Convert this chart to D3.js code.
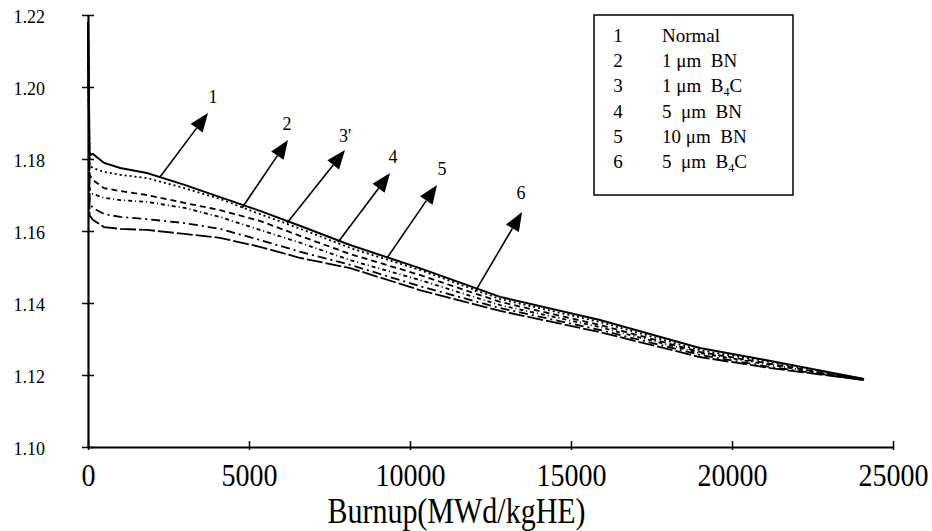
<!DOCTYPE html>
<html>
<head>
<meta charset="utf-8">
<script src="https://cdn.jsdelivr.net/npm/d3@7"></script>
<style>
    body { margin: 0; background: #fff; }
    svg { display: block; }
    svg text { font-family: 'Liberation Serif', 'Times New Roman', serif; }
    .legend text { white-space: pre; }
</style>
</head>
<body>
<div id="chart"></div>
<script>
var burnup = [0, 50, 150, 500, 1000, 1830, 3000, 4100, 5340, 6600, 8140, 10300, 12800, 15900, 19000, 21200, 24100];
var kNormal = [1.218, 1.1811, 1.1814, 1.1789, 1.1775, 1.1761, 1.1728, 1.1694, 1.1656, 1.1614, 1.1561, 1.1497, 1.1417, 1.1353, 1.1275, 1.1239, 1.1189];
var kBN1 = [1.218, 1.1783, 1.1775, 1.1764, 1.1756, 1.1747, 1.1719, 1.1689, 1.1647, 1.1606, 1.1553, 1.1492, 1.1411, 1.1347, 1.1269, 1.1236, 1.1189];
var kB4C1 = [1.218, 1.1756, 1.1742, 1.1719, 1.1711, 1.1700, 1.1678, 1.1658, 1.1628, 1.1586, 1.1536, 1.1478, 1.1403, 1.1339, 1.1264, 1.1231, 1.1186];
var kBN5 = [1.218, 1.1714, 1.1703, 1.1692, 1.1686, 1.1681, 1.1664, 1.1639, 1.1603, 1.1567, 1.1519, 1.1464, 1.1394, 1.1333, 1.1261, 1.1228, 1.1186];
var kBN10 = [1.218, 1.1678, 1.1664, 1.1647, 1.1639, 1.1633, 1.1622, 1.1606, 1.1575, 1.1542, 1.1506, 1.1447, 1.1386, 1.1325, 1.1256, 1.1222, 1.1186];
var kB4C5 = [1.218, 1.1644, 1.1631, 1.1611, 1.1606, 1.1603, 1.1592, 1.1581, 1.1556, 1.1525, 1.1497, 1.1436, 1.1378, 1.1319, 1.1250, 1.1219, 1.1186];

var seriesNums = ['1', '2', '3', '4', '5', '6'];
var seriesNames = ['Normal', '1 \u03bcm  BN', '1 \u03bcm  B4C', '5  \u03bcm  BN', '10 \u03bcm  BN', '5  \u03bcm  B4C'];
var seriesValues = [kNormal, kBN1, kB4C1, kBN5, kBN10, kB4C5];

var xTicks = [0, 5000, 10000, 15000, 20000, 25000];
var yTicks = [1.10, 1.12, 1.14, 1.16, 1.18, 1.20, 1.22];

// arrow annotations: [base burnup, base k, tip burnup, tip k, label burnup, label k]
var arrowLabels = ['1', '2', '3\'', '4', '5', '6'];
var arrowPoints = [
    [2236, 1.1750, 3727, 1.1928, 3882, 1.1956],
    [4783, 1.1664, 6212, 1.1853, 6181, 1.1881],
    [6181, 1.1622, 7982, 1.1825, 7982, 1.1847],
    [7765, 1.1569, 9380, 1.1761, 9473, 1.1789],
    [9287, 1.1525, 10840, 1.1728, 10995, 1.1756],
    [12020, 1.1431, 13480, 1.1653, 13449, 1.1689]
];

///////////// INIT
makeChart();

function makeChart() {
    var fullwidth = 932;
    var fullheight = 531;
    var serif = "'Liberation Serif', 'Times New Roman', serif";
    var dashes = [null, '2,3', '6,4', '4,3,1,3', '9,4,2,4', '16,3'];

    var svg = d3.select('#chart')
        .append('svg')
        .attr('width', fullwidth)
        .attr('height', fullheight);

    svg.append('rect')
        .attr('width', fullwidth)
        .attr('height', fullheight)
        .attr('fill', '#fff');

    var x = d3.scaleLinear().domain([0, 25000]).range([88, 893]);
    var y = d3.scaleLinear().domain([1.10, 1.22]).range([447, 15]);

    // curves
    var line = d3.line()
        .x(function(d) { return x(d[0]); })
        .y(function(d) { return y(d[1]); });

    seriesValues.forEach(function(vals, i) {
        var pts = burnup.map(function(b, j) { return [b, vals[j]]; });
        svg.append('path')
            .datum(pts)
            .attr('d', line)
            .attr('fill', 'none')
            .attr('stroke', '#000')
            .attr('stroke-width', i === 0 ? 2 : 1.8)
            .attr('stroke-dasharray', dashes[i]);
    });

    // x axis
    var xAxis = svg.append('g')
        .attr('transform', 'translate(0,' + y(1.10) + ')')
        .call(d3.axisBottom(x).tickValues(xTicks).tickSize(0).tickFormat(''));
    xAxis.select('.domain').attr('stroke', '#000').attr('stroke-width', 2.2);
    xAxis.selectAll('.tick line')
        .attr('y1', -6).attr('y2', 3)
        .attr('stroke', '#000').attr('stroke-width', 1.5);
    xAxis.selectAll('.tick')
        .append('text')
        .attr('transform', 'scale(1,1.16)')
        .attr('y', 39 / 1.16)
        .attr('fill', '#000')
        .attr('font-family', serif)
        .attr('font-size', 28)
        .attr('text-anchor', 'middle')
        .text(function(d) { return d; });

    // y axis
    var yAxis = svg.append('g')
        .attr('transform', 'translate(' + x(0) + ',0)')
        .call(d3.axisLeft(y).tickValues(yTicks).tickSize(0).tickFormat(''));
    yAxis.select('.domain').attr('stroke', '#000').attr('stroke-width', 2.2);
    yAxis.selectAll('.tick line')
        .attr('x1', -6).attr('x2', 6)
        .attr('stroke', '#000').attr('stroke-width', 1.5);
    yAxis.selectAll('.tick')
        .append('text')
        .attr('x', 45 - x(0))
        .attr('y', 7)
        .attr('fill', '#000')
        .attr('font-family', serif)
        .attr('font-size', 18)
        .attr('text-anchor', 'end')
        .text(function(d) { return d3.format('.2f')(d); });

    svg.append('text')
        .attr('transform', 'translate(' + ((x(0) + x(25000)) / 2 - 34) + ',523) scale(1,1.2)')
        .attr('font-family', serif)
        .attr('font-size', 30)
        .attr('text-anchor', 'middle')
        .text('Burnup(MWd/kgHE)');

    // arrows
    arrowPoints.forEach(function(a, i) {
        var x0 = x(a[0]), y0 = y(a[1]), x1 = x(a[2]), y1 = y(a[3]);
        var ang = Math.atan2(y1 - y0, x1 - x0);
        var len = 19, hw = 7.5;
        var bx = x1 - len * Math.cos(ang), by = y1 - len * Math.sin(ang);
        var px = -Math.sin(ang) * hw, py = Math.cos(ang) * hw;
        svg.append('line')
            .attr('x1', x0).attr('y1', y0)
            .attr('x2', bx).attr('y2', by)
            .attr('stroke', '#000').attr('stroke-width', 1.6);
        svg.append('path')
            .attr('d', 'M' + x1 + ',' + y1 + 'L' + (bx + px) + ',' + (by + py) + 'L' + (bx - px) + ',' + (by - py) + 'Z')
            .attr('fill', '#000');
        svg.append('text')
            .attr('x', x(a[4]))
            .attr('y', y(a[5]))
            .attr('font-size', 18)
            .attr('text-anchor', 'middle')
            .text(arrowLabels[i]);
    });

    // legend
    var legend = svg.append('g').attr('class', 'legend');
    legend.append('rect')
        .attr('x', 594).attr('y', 15)
        .attr('width', 199).attr('height', 180)
        .attr('fill', '#fff')
        .attr('stroke', '#000')
        .attr('stroke-width', 1.5);

    seriesNames.forEach(function(name, i) {
        var yy = 42 + i * 25.2;
        legend.append('text')
            .attr('x', 618).attr('y', yy)
            .attr('font-size', 19)
            .attr('text-anchor', 'middle')
            .text(seriesNums[i]);
        var t = legend.append('text')
            .attr('x', 662).attr('y', yy)
            .attr('font-size', 19);
        var parts = name.split('B4C');
        t.append('tspan').text(parts[0]);
        if (parts.length > 1) {
            t.append('tspan').text('B');
            t.append('tspan').attr('font-size', 12).attr('dy', 4).text('4');
            t.append('tspan').attr('dy', -4).text('C');
        }
    });
}
</script>
</body>
</html>
